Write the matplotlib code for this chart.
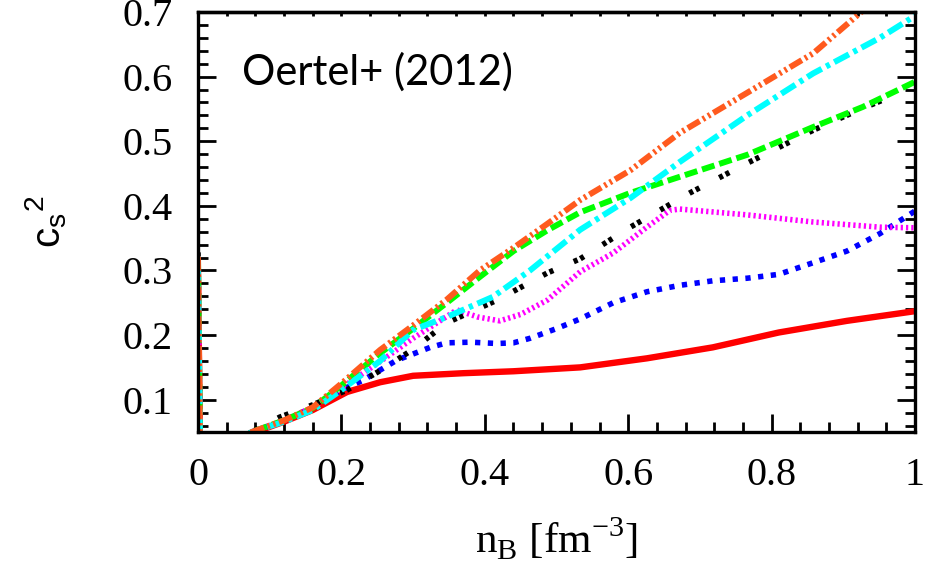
import numpy as np
import matplotlib
matplotlib.use("Agg")
import matplotlib.pyplot as plt
from matplotlib.ticker import MultipleLocator

# n_B [fm^-3] and c_s^2 (first two points: spike at n_B -> 0)
red_x = [0.0, 0.003, 0.08, 0.12, 0.16, 0.208, 0.254, 0.30, 0.37, 0.44, 0.533, 0.626, 0.718, 0.81, 0.905, 1.0]
red_y = [0.30, 0.0, 0.05, 0.066, 0.084, 0.112, 0.127, 0.137, 0.141, 0.144, 0.150, 0.164, 0.181, 0.204, 0.222, 0.237]

blue_x = [0.0, 0.003, 0.075, 0.12, 0.16, 0.20, 0.23, 0.277, 0.324, 0.347, 0.38, 0.417, 0.44, 0.463, 0.50, 0.533,
          0.579, 0.626, 0.672, 0.718, 0.766, 0.81, 0.858, 0.905, 0.951, 1.0]
blue_y = [0.30, 0.0, 0.05, 0.068, 0.088, 0.115, 0.13, 0.161, 0.181, 0.188, 0.189, 0.187, 0.188, 0.195, 0.21, 0.225,
          0.25, 0.267, 0.277, 0.284, 0.288, 0.294, 0.312, 0.33, 0.357, 0.392]

mag_x = [0.0, 0.003, 0.075, 0.12, 0.16, 0.20, 0.263, 0.30, 0.361, 0.39, 0.421, 0.45, 0.487, 0.533, 0.579, 0.626,
         0.658, 0.672, 0.766, 0.858, 0.951, 1.0]
mag_y = [0.31, 0.0, 0.05, 0.068, 0.088, 0.118, 0.166, 0.195, 0.239, 0.228, 0.222, 0.232, 0.254, 0.298, 0.327, 0.367,
         0.393, 0.395, 0.386, 0.375, 0.367, 0.366]

blk_x = [0.0, 0.003, 0.075, 0.114, 0.16, 0.208, 0.254, 0.30, 0.347, 0.417, 0.487, 0.533, 0.603, 0.686, 0.766,
         0.858, 0.927, 0.98]
blk_y = [0.328, 0.0, 0.05, 0.073, 0.092, 0.115, 0.145, 0.178, 0.219, 0.254, 0.296, 0.318, 0.367, 0.42, 0.466,
         0.517, 0.551, 0.575]

grn_x = [0.0, 0.003, 0.075, 0.12, 0.16, 0.20, 0.254, 0.30, 0.347, 0.393, 0.44, 0.487, 0.533, 0.603, 0.672, 0.766,
         0.858, 0.927, 1.0]
grn_y = [0.32, 0.0, 0.05, 0.068, 0.087, 0.122, 0.172, 0.21, 0.25, 0.29, 0.33, 0.362, 0.39, 0.42, 0.445, 0.479,
         0.522, 0.553, 0.592]

cyan_x = [0.0, 0.003, 0.075, 0.12, 0.16, 0.20, 0.254, 0.30, 0.347, 0.411, 0.463, 0.533, 0.603, 0.672, 0.766,
          0.858, 0.951, 1.0]
cyan_y = [0.31, 0.0, 0.05, 0.066, 0.084, 0.115, 0.16, 0.208, 0.228, 0.259, 0.30, 0.363, 0.412, 0.468, 0.54,
          0.605, 0.66, 0.694]

orng_x = [0.0, 0.003, 0.075, 0.12, 0.16, 0.20, 0.254, 0.30, 0.347, 0.393, 0.44, 0.487, 0.533, 0.603, 0.672,
          0.766, 0.858, 0.925, 0.95]
orng_y = [0.321, 0.0, 0.05, 0.068, 0.088, 0.125, 0.177, 0.215, 0.255, 0.30, 0.335, 0.372, 0.409, 0.455, 0.513,
          0.575, 0.636, 0.70, 0.72]

plt.rcParams["lines.scale_dashes"] = False

fig = plt.figure(figsize=(9.39, 5.70), dpi=100)
ax = fig.add_axes([198 / 939, 1 - 432 / 570, 717 / 939, 420 / 570])

ax.plot(red_x, red_y, color="#ff0000", lw=4.6, solid_capstyle="butt")
ax.plot(blue_x, blue_y, color="#0000ff", lw=4.0, dashes=(3.8, 5.4), dash_capstyle="butt")
ax.plot(mag_x, mag_y, color="#ff00ff", lw=4.0, dashes=(1.6, 2.2), dash_capstyle="butt")
ax.plot(blk_x, blk_y, color="black", lw=4.0, dashes=(3.0, 2.2, 3.0, 16.0), dash_capstyle="butt")
ax.plot(grn_x, grn_y, color="#00ff00", lw=4.3, dashes=(9.4, 3.6), dash_capstyle="butt")
ax.plot(cyan_x, cyan_y, color="#00ffff", lw=4.3, dashes=(12.0, 3.6, 3.0, 3.6), dash_capstyle="butt")
ax.plot(orng_x, orng_y, color="#ff5a1e", lw=4.3, dashes=(10.0, 2.6, 1.8, 2.6, 1.8, 2.6), dash_capstyle="butt")

ax.set_xlim(0, 1)
ax.set_ylim(0.05, 0.7)
ax.xaxis.set_minor_locator(MultipleLocator(0.04))
ax.yaxis.set_minor_locator(MultipleLocator(0.02))
ax.set_xticks([0, 0.2, 0.4, 0.6, 0.8, 1.0], ["0", "0.2", "0.4", "0.6", "0.8", "1"])
ax.set_yticks([0.1, 0.2, 0.3, 0.4, 0.5, 0.6, 0.7], ["0.1", "0.2", "0.3", "0.4", "0.5", "0.6", "0.7"])

for sp in ax.spines.values():
    sp.set_linewidth(2.4)
ax.tick_params(which="both", direction="in", left=True, right=True, bottom=True, top=False, width=2.0,
               labelsize=29, labelfontfamily="Liberation Serif")
ax.tick_params(which="major", length=13, pad=18)
ax.tick_params(which="minor", length=7)

top = ax.secondary_xaxis("top")
top.xaxis.set_major_locator(MultipleLocator(0.04))
top.tick_params(direction="in", length=3, width=2.0, labeltop=False)
top.spines["top"].set_linewidth(2.4)

ax.set_xlabel(r"n$_\mathregular{B}$ [fm$^\mathregular{-3}$]", fontsize=31, family="Liberation Serif")
ax.xaxis.set_label_coords(0.5, -0.20)
ax.set_ylabel(r"c$_\mathregular{s}$$^\mathregular{2}$", fontsize=29, family="Liberation Sans")
ax.yaxis.set_label_coords(-0.18, 0.5)

ax.text(0.061, 0.826, "Oertel+ (2012)", transform=ax.transAxes, fontsize=30, family="Lato",
        ha="left", va="baseline")

fig.savefig("out.png", dpi=100)
